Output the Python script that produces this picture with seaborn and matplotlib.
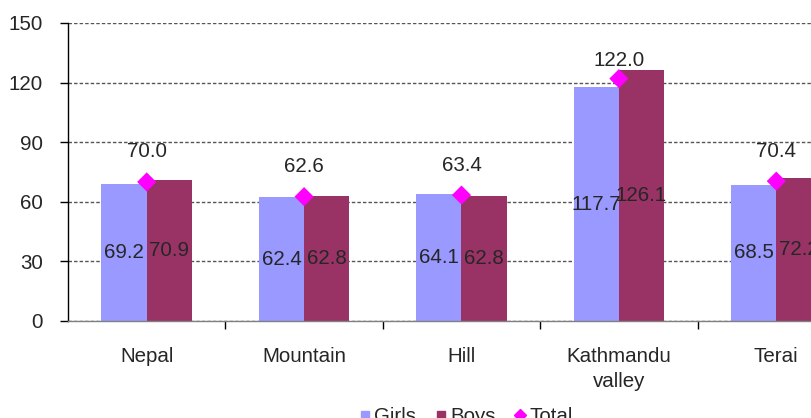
import numpy as np
import pandas as pd
import matplotlib
matplotlib.use("Agg")
import matplotlib.pyplot as plt
from matplotlib.lines import Line2D
import seaborn as sns

categories = ["Nepal", "Mountain", "Hill", "Kathmandu\nvalley", "Terai"]
girls = [69.2, 62.4, 64.1, 117.7, 68.5]
boys = [70.9, 62.8, 62.8, 126.1, 72.2]
total = [70.0, 62.6, 63.4, 122.0, 70.4]
series = ["Girls", "Boys"]
yticks = [0, 30, 60, 90, 120, 150]

c_girls = "#9999FF"
c_boys = "#993366"
c_total = "#FF00FF"
txt = "#262626"
fs = 14.8

sns.set_theme(style="white")
plt.rcParams["font.family"] = ["Liberation Sans", "DejaVu Sans"]

df = pd.DataFrame({
    "cat": categories * 2,
    "series": ["Girls"] * len(categories) + ["Boys"] * len(categories),
    "value": girls + boys,
})

fig = plt.figure(figsize=(8.11, 4.18), dpi=100)
ax = fig.add_axes([68 / 811, 97 / 418, 787 / 811, 298 / 418])

sns.barplot(data=df, x="cat", y="value", hue="series", hue_order=series,
            order=categories, palette=[c_girls, c_boys], width=0.575,
            saturation=1, gap=0, legend=False, ax=ax, zorder=2, linewidth=0)

# value labels centered in bars
for cont, vals in zip(ax.containers, [girls, boys]):
    for rect, v in zip(cont, vals):
        ax.text(rect.get_x() + rect.get_width() / 2, v / 2, f"{v:.1f}",
                ha="center", va="center", fontsize=fs, color=txt, zorder=5)

xs = np.arange(len(categories))
sns.scatterplot(x=xs, y=total, marker="D", s=95, color=c_total,
                edgecolor="none", ax=ax, zorder=4, legend=False)
for x, t in zip(xs, total):
    off = 18 if t > 100 else 30
    ax.annotate(f"{t:.1f}", (x, t), xytext=(0, off), textcoords="offset pixels",
                ha="center", va="center", fontsize=fs, color=txt)

ax.set_xlim(-0.5, len(categories) - 0.5)
ax.set_ylim(0, 150)
ax.set_yticks(yticks)
ax.set_yticklabels([str(v) for v in yticks])
ax.set_xlabel("")
ax.set_ylabel("")

ax.yaxis.grid(True, color="#555555", linestyle=(0, (2.5, 1.5)), linewidth=1)
ax.set_axisbelow(True)

for s in ["top", "right"]:
    ax.spines[s].set_visible(False)
ax.spines["left"].set_color("black")
ax.spines["left"].set_linewidth(1)
ax.spines["bottom"].set_color("#808080")
ax.spines["bottom"].set_linewidth(1)

ax.tick_params(axis="y", which="major", left=True, length=6, width=1,
               color="black", pad=12, labelsize=fs, labelcolor=txt)
ax.set_xticks(xs)
ax.set_xticklabels(categories, linespacing=1.35)
ax.set_xticks(np.arange(0.5, len(categories) - 0.5, 1), minor=True)
ax.tick_params(axis="x", which="major", length=0, pad=19, labelsize=fs,
               labelcolor=txt)
ax.tick_params(axis="x", which="minor", bottom=True, length=6, width=1,
               color="black")

handles = [
    Line2D([], [], marker="s", linestyle="none", color=c_girls, markersize=6),
    Line2D([], [], marker="s", linestyle="none", color=c_boys, markersize=6),
    Line2D([], [], marker="D", linestyle="none", color=c_total, markersize=6),
]
fig.legend(handles, ["Girls", "Boys", "Total"], loc="center",
           bbox_to_anchor=(466 / 811, 1 / 418), ncol=3, frameon=False,
           fontsize=fs, handletextpad=0.15, columnspacing=0.9,
           handlelength=0.6, labelcolor=txt, borderpad=0.1)

fig.savefig("out.png", dpi=100)
